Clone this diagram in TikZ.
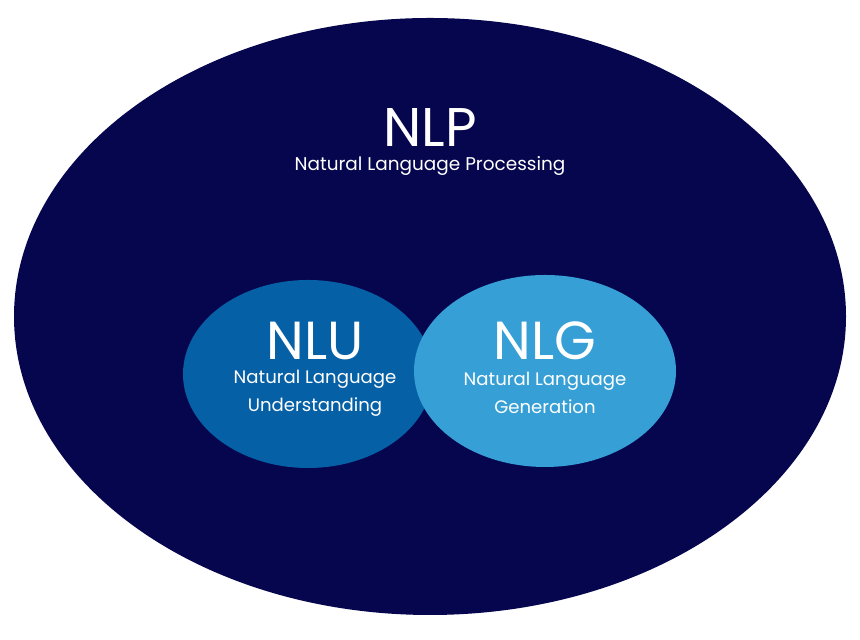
\documentclass[tikz,border=0pt]{standalone}
\usepackage{fontspec}
\setmainfont{Poppins}
\usetikzlibrary{shapes.geometric}
\definecolor{navy}{HTML}{06064E}
\definecolor{nlublue}{HTML}{0660A6}
\definecolor{nlgblue}{HTML}{359FD6}
\tikzset{
  settitle/.style={white, inner sep=0pt, text depth=0pt, text height=22pt, font=\fontsize{30.5}{33}\selectfont},
  setsub/.style={white, inner sep=0pt, align=center, font=\fontsize{10.3}{16}\selectfont}
}
\begin{document}
\begin{tikzpicture}
% Set the canvas (860 x 640 px at 0.02 cm each)
\useasboundingbox (0,0) rectangle (17.2,12.8);

% Draw the three sets
\node[ellipse, fill=navy, minimum width=16.64cm, minimum height=11.94cm] (nlp) at (8.6, 6.47) {};
\node[ellipse, fill=nlublue, minimum width=5.0cm, minimum height=3.76cm] (nlu) at (6.16, 5.32) {};
\node[ellipse, fill=nlgblue, minimum width=5.24cm, minimum height=3.84cm] (nlg) at (10.9, 5.38) {};

% Insert the labels
\node[settitle, font=\fontsize{31}{33}\selectfont] (nlptitle) at (8.6, 10.26) {NLP};
\node[setsub, font=\fontsize{10.5}{12}\selectfont] (nlpsub) at (8.6, 9.48) {Natural Language Processing};
\node[settitle] (nlutitle) at (6.3, 6.0) {NLU};
\node[setsub] (nlusub) at (6.3, 4.94) {Natural Language\\Understanding};
\node[settitle] (nlgtitle) at (10.9, 6.0) {NLG};
\node[setsub] (nlgsub) at (10.9, 4.94) {Natural Language\\Generation};
\end{tikzpicture}
\end{document}
